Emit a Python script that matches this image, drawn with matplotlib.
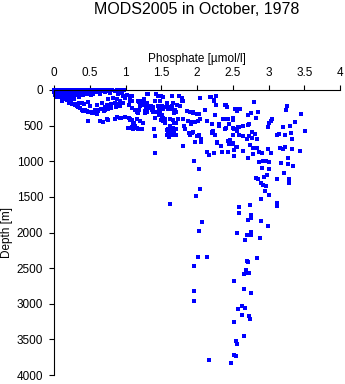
import matplotlib
matplotlib.use("Agg")
import matplotlib.pyplot as plt
from matplotlib.ticker import FormatStrFormatter

plt.rcParams['font.family'] = ['Liberation Sans', 'DejaVu Sans']

# surface layer, standard levels 0-125 m (phosphate, depth)
surface = [
    (0.0, 0), (0.03, 0), (0.07, 0), (0.11, 0), (0.15, 0), (0.19, 0), (0.24, 0), (0.28, 0),
    (0.33, 0), (0.38, 0), (0.42, 0), (0.47, 0), (0.52, 0), (0.57, 0), (0.61, 0), (0.66, 0),
    (0.71, 0), (0.76, 0), (0.81, 0), (0.88, 0), (0.98, 0),
    (0.01, 10), (0.05, 10), (0.09, 10), (0.13, 10), (0.18, 10), (0.22, 10), (0.26, 10),
    (0.31, 10), (0.35, 10), (0.4, 10), (0.45, 10), (0.5, 10), (0.55, 10), (0.6, 10),
    (0.64, 10), (0.69, 10), (0.74, 10),
    (0.02, 20), (0.06, 20), (0.1, 20), (0.14, 20), (0.2, 20), (0.25, 20), (0.29, 20),
    (0.34, 20), (0.39, 20), (0.44, 20), (0.48, 20), (0.53, 20), (0.58, 20), (0.63, 20),
    (0.68, 20), (0.78, 20),
    (0.0, 30), (0.04, 30), (0.08, 30), (0.12, 30), (0.17, 30), (0.21, 30), (0.27, 30),
    (0.32, 30), (0.37, 30), (0.41, 30), (0.46, 30), (0.51, 30), (0.56, 30), (0.62, 30),
    (0.72, 30),
    (0.01, 50), (0.05, 50), (0.1, 50), (0.15, 50), (0.2, 50), (0.24, 50), (0.3, 50),
    (0.36, 50), (0.43, 50), (0.49, 50), (0.54, 50), (0.65, 50),
    (0.02, 75), (0.07, 75), (0.12, 75), (0.18, 75), (0.23, 75), (0.29, 75), (0.34, 75),
    (0.4, 75), (0.52, 75),
    (0.04, 100), (0.1, 100), (0.16, 100), (0.22, 100), (0.27, 100), (0.35, 100),
    (0.13, 125), (0.2, 125), (0.28, 125),
]

# upper thermocline, phosphate below ~1.3
upper = [
    (0.737, 14), (0.783, 38), (0.760, 131), (0.853, 14), (0.923, 0), (0.9, 60), (0.947, 38),
    (0.969, 84), (0.829, 108), (0.877, 131), (0.923, 154), (0.947, 178), (0.783, 234),
    (0.760, 271), (1.087, 84), (1.087, 154), (1.179, 154), (1.203, 201), (1.227, 154),
    (1.263, 131), (1.297, 178), (1.297, 60), (1.157, 295), (1.273, 318), (0.737, 411),
    (0.853, 411), (0.923, 389), (1.063, 411), (1.039, 529), (1.109, 552), (1.179, 552),
    (1.109, 481), (0.48, 435), (0.643, 439), (0.69, 449), (0.76, 425),
    (0.606, 281), (0.662, 267), (0.699, 299), (0.751, 271), (0.578, 327), (0.597, 341),
    (0.364, 248), (0.387, 281), (0.457, 295), (0.527, 305), (0.308, 196), (0.345, 187),
    (0.396, 178), (0.420, 201), (0.476, 173), (0.503, 225), (0.606, 206), (0.667, 187),
    (0.745, 211), (0.797, 201), (0.853, 187), (0.913, 196), (0.969, 187), (0.717, 234),
    (0.793, 253), (0.867, 243), (0.923, 225), (0.234, 150), (0.270, 131), (0.214, 187),
    (0.122, 117), (0.154, 131), (0.186, 140), (0.294, 211), (0.340, 234), (0.434, 281),
    (0.480, 305), (0.527, 327), (0.573, 281), (0.620, 295), (0.713, 281), (0.877, 383),
    (0.941, 393), (0.993, 383), (1.025, 70), (0.993, 117), (1.063, 102), (1.133, 281),
    (1.179, 327), (1.063, 421), (1.087, 515), (1.101, 459), (1.053, 538), (1.165, 538),
    (1.227, 552), (1.053, 389), (1.087, 421), (1.119, 467), (1.133, 505), (1.241, 459),
    (1.203, 435), (1.157, 411), (1.161, 313), (1.193, 276), (1.277, 291), (1.095, 257),
    (1.053, 211), (1.063, 150), (1.193, 168), (1.249, 215), (1.287, 243), (1.305, 196),
    (1.319, 248), (1.305, 305), (1.067, 84), (1.203, 547), (1.203, 220), (1.259, 136),
    (1.249, 164), (0.108, 154), (0.178, 140), (0.248, 201), (0.317, 225), (0.41, 295),
]

# intermediate values 1.3 - 2.6
middle = [
    (1.315, 60), (1.427, 60), (1.459, 80), (1.501, 88), (1.529, 102), (1.655, 84),
    (1.752, 84), (1.790, 108), (1.483, 150), (1.576, 178), (1.669, 187), (1.808, 159),
    (1.716, 211), (1.762, 220), (1.506, 225), (1.529, 267), (1.576, 234), (1.590, 262),
    (1.655, 271), (1.692, 281), (1.706, 309), (1.856, 295), (1.902, 305), (1.944, 305),
    (1.948, 327), (1.996, 333), (2.024, 341), (2.116, 285), (2.046, 108), (2.186, 98),
    (2.270, 88), (2.234, 159), (2.270, 215), (2.406, 215), (1.510, 347), (1.548, 407),
    (1.622, 407), (1.738, 407), (1.800, 407), (1.706, 459), (1.683, 467), (1.878, 431),
    (1.926, 449), (1.912, 481), (1.972, 453), (2.038, 411), (2.010, 435), (2.256, 355),
    (2.382, 403), (2.136, 439), (2.312, 481), (1.622, 501), (1.678, 543), (1.706, 543),
    (1.818, 505), (1.832, 543), (1.599, 543), (1.632, 571), (1.683, 608), (1.669, 632),
    (1.892, 608), (1.930, 599), (1.948, 594), (1.902, 632), (1.996, 641), (2.028, 632),
    (2.052, 684), (2.052, 726), (2.206, 604), (2.228, 571), (2.256, 627), (1.613, 664),
    (1.361, 220), (1.389, 243), (1.538, 243), (1.473, 257), (1.506, 262), (1.366, 276),
    (1.389, 305), (1.427, 313), (1.576, 196), (1.622, 243), (1.655, 225), (1.683, 327),
    (1.473, 351), (1.529, 389), (1.506, 407), (1.413, 389), (1.520, 439), (1.548, 467),
    (1.403, 552), (1.497, 421), (1.669, 421), (1.576, 561), (1.613, 561), (1.669, 529),
    (1.706, 552), (1.599, 571), (1.576, 632), (1.608, 604),
    (1.702, 627), (1.417, 646), (1.417, 889),
    (1.413, 154), (1.459, 225), (1.483, 295), (1.389, 271), (2.396, 552), (2.513, 552),
    (1.790, 154), (2.196, 102), (2.238, 145), (2.392, 211),
    (2.424, 234), (2.531, 267), (2.555, 295), (2.206, 481), (2.368, 407), (2.429, 403),
    (2.452, 477), (2.206, 585), (2.312, 501), (2.406, 529), (2.508, 529),
    (2.578, 515), (2.284, 726), (2.429, 716), (2.508, 632), (2.592, 632),
]

# high phosphate branch, 2.4 - 3.5
high = [
    (2.801, 173), (2.541, 271), (2.606, 267), (3.263, 229), (3.241, 285), (2.853, 313),
    (2.751, 327), (2.717, 347), (3.459, 341), (2.508, 397), (2.508, 425), (2.829, 397),
    (3.053, 411), (3.035, 439), (3.011, 467), (3.375, 453), (2.499, 533), (2.583, 519),
    (2.643, 505), (2.709, 487), (2.731, 481), (2.997, 523), (3.199, 523), (3.305, 509),
    (3.515, 571), (2.564, 580), (2.769, 594), (2.807, 622), (2.648, 641), (2.723, 650),
    (3.115, 636), (3.151, 622), (3.227, 632), (3.319, 608), (2.843, 692), (2.703, 692),
    (2.773, 669), (3.333, 688), (2.462, 702), (2.508, 762), (2.555, 800),
]

# 700 m and deeper
deep = [
    (1.804, 790), (1.976, 734), (2.052, 716), (2.284, 740), (2.340, 782), (2.452, 712),
    (2.443, 758), (2.508, 748), (2.550, 804), (2.745, 776), (2.811, 818), (2.779, 818),
    (2.843, 818), (2.867, 874), (2.913, 888), (2.997, 832), (3.035, 888), (3.157, 818),
    (3.231, 804), (3.203, 832), (3.333, 832), (3.445, 852), (2.136, 874), (2.168, 916),
    (2.242, 880), (2.354, 874), (2.438, 874), (2.522, 846), (2.517, 930), (2.648, 856),
    (2.787, 902), (2.717, 959), (2.867, 1006), (2.923, 1001), (2.965, 992), (3.011, 1015),
    (3.179, 1029), (3.277, 1043), (3.269, 950), (3.343, 1071), (1.962, 992), (2.032, 1105),
    (2.913, 1099), (3.003, 1113), (3.221, 1169), (2.983, 1193), (2.933, 1225),
    (2.825, 1239), (2.849, 1253), (3.123, 1253), (3.291, 1253), (3.291, 1301),
    (2.895, 1301), (2.923, 1338), (2.965, 1352), (2.955, 1422), (3.003, 1469),
    (2.895, 1534), (2.038, 1385), (1.990, 1488), (2.592, 1646), (2.745, 1618),
    (3.123, 1590), (3.123, 1624), (2.583, 1731), (2.759, 1759), (2.759, 1792),
    (1.627, 1600),
    (2.074, 1857), (2.032, 1975), (2.564, 2011), (2.695, 2039), (2.759, 1997),
    (2.759, 2031), (2.676, 2105), (2.885, 2081), (2.717, 1825), (2.895, 1834),
    (2.993, 1909), (2.018, 2344), (2.140, 2344), (1.962, 2474), (2.843, 2354),
    (2.695, 2396), (2.709, 2418), (2.690, 2531), (2.653, 2587), (2.681, 2573),
    (2.727, 2568), (2.522, 2677), (2.662, 2797), (2.759, 2849), (1.958, 2825),
    (1.962, 2966), (2.634, 3032), (2.578, 3078), (2.676, 3064), (2.634, 3162),
    (2.731, 3176), (2.745, 3214), (2.522, 3260), (2.662, 3453), (2.545, 3527),
    (2.564, 3569), (2.522, 3719), (2.550, 3733), (2.172, 3785), (2.480, 3836),
]

xticks = [0, 0.5, 1, 1.5, 2, 2.5, 3, 3.5, 4]
yticks = [0, 500, 1000, 1500, 2000, 2500, 3000, 3500, 4000]

fig = plt.figure(figsize=(3.45, 3.84), dpi=100)
ax = fig.add_axes([54 / 345, 1 - 375 / 384, 286 / 345, 285 / 384])

for group in [surface, upper, middle, high, deep]:
    phos, depth = zip(*group)
    ax.plot(phos, depth, 's', color='#0000ff', markersize=2.3, markeredgewidth=0,
            clip_on=False)

ax.set_xlim(0, 4)
ax.set_ylim(4000, 0)
ax.set_xticks(xticks)
ax.set_yticks(yticks)
ax.xaxis.set_major_formatter(FormatStrFormatter('%g'))
ax.xaxis.tick_top()
ax.xaxis.set_label_position('top')
ax.spines['bottom'].set_visible(False)
ax.spines['right'].set_visible(False)
for s in ['top', 'left']:
    ax.spines[s].set_linewidth(0.8)
ax.tick_params(direction='out', length=3.8, width=0.8, labelsize=8.5, pad=4)

ax.set_xlabel('Phosphate [µmol/l]', fontsize=8.5, labelpad=4)
ax.set_ylabel('Depth [m]', fontsize=8.5, labelpad=3)
fig.text(197 / 345, 1 - 9 / 384, 'MODS2005 in October, 1978', ha='center', va='center',
         fontsize=11.5)

fig.savefig('out.png', dpi=100)
